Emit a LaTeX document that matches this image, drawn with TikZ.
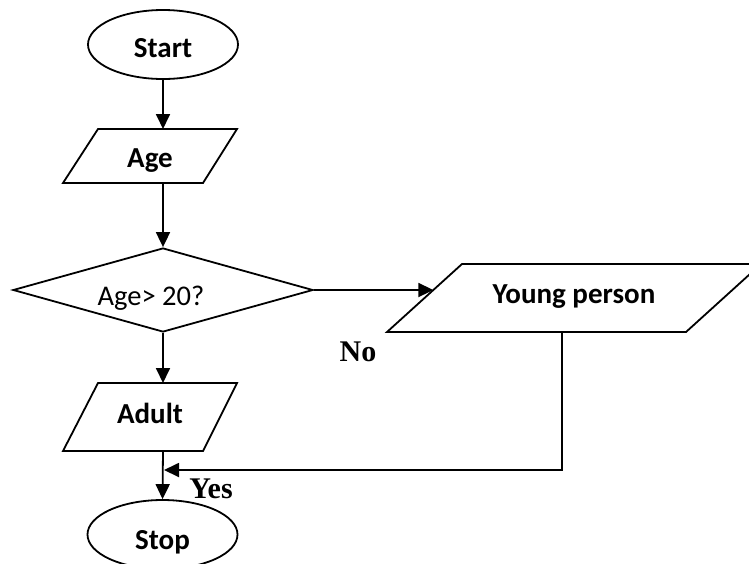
\documentclass[tikz,border=0pt]{standalone}
\usepackage{fontspec}
\setmainfont{Carlito}
\newfontfamily\tnr{Liberation Serif}
\usetikzlibrary{arrows.meta,shapes.geometric,calc}
\begin{document}
\begin{tikzpicture}[x=1pt,y=-1pt,
  line/.style={line width=1.8pt},
  arr/.style={line, -{Triangle[length=15pt,width=14pt]}},
  shapeline/.style={line width=1.8pt, line join=miter},
  term/.style={ellipse, draw, line width=1.8pt, minimum width=150pt, minimum height=69pt, inner sep=0pt, text depth=0pt, font=\fontsize{29}{34}\selectfont\bfseries},
  box/.style={rectangle, inner sep=0pt, text height=18.7pt, text depth=0pt, font=\fontsize{29}{34}\selectfont\bfseries},
  qtxt/.style={rectangle, inner sep=0pt, text height=18.4pt, text depth=0pt, font=\fontsize{28.5}{34}\selectfont},
  lbl/.style={inner sep=0pt, text height=19.9pt, text depth=0pt, font=\tnr\fontsize{30}{34}\selectfont\bfseries}
]
\useasboundingbox (0,0) rectangle (749,563);

% terminals
\node[term, text height=25.7pt] (start) at (163,44.5) {Start};
\node[term, text height=29.7pt] (stop) at (162.5,534.5) {Stop};

% Age parallelogram
\coordinate (a1) at (98,129);
\coordinate (a2) at (237,129);
\coordinate (a3) at (203,183);
\coordinate (a4) at (63,183);
\draw[shapeline] (a1) -- (a2) -- (a3) -- (a4) -- cycle;
\node[box] (age) at (150,158.5) {Age};

% decision
\node[diamond, draw, line width=1.8pt, minimum width=300pt, minimum height=84pt, inner sep=0pt, aspect=3.57] (dec) at (163,290) {};
\node[qtxt] (q) at (151,296) {Age> 20?};

% Adult parallelogram
\coordinate (d1) at (98,383);
\coordinate (d2) at (237,383);
\coordinate (d3) at (203,451);
\coordinate (d4) at (63,451);
\draw[shapeline] (d1) -- (d2) -- (d3) -- (d4) -- cycle;
\node[box] (adult) at (150,414) {Adult};

% Young person parallelogram
\coordinate (y1) at (462,264);
\coordinate (y2) at (761,264);
\coordinate (y3) at (686,332);
\coordinate (y4) at (387,332);
\draw[shapeline] (y1) -- (y2) -- (y3) -- (y4) -- cycle;
\node[box] (young) at (574,294.5) {Young person};

% connector points
\coordinate (ymid) at ($(y4)!0.6176!(y1)$);
\coordinate (ydown) at (562,332);
\coordinate (join) at (164,470);

% connectors
\draw[arr] (start) -- (start |- a1);
\draw[arr] (start |- a4) -- (dec.north);
\draw[arr] (dec.east) -- (ymid);
\draw[arr] (dec.south) -- (dec.south |- d1);
\draw[arr] (dec.south |- d4) -- (stop.north);
\draw[arr] (ydown) |- (join);

% labels
\node[lbl] (no) at (358,351.5) {No};
\node[lbl] (yes) at (211,489) {Yes};
\end{tikzpicture}
\end{document}
